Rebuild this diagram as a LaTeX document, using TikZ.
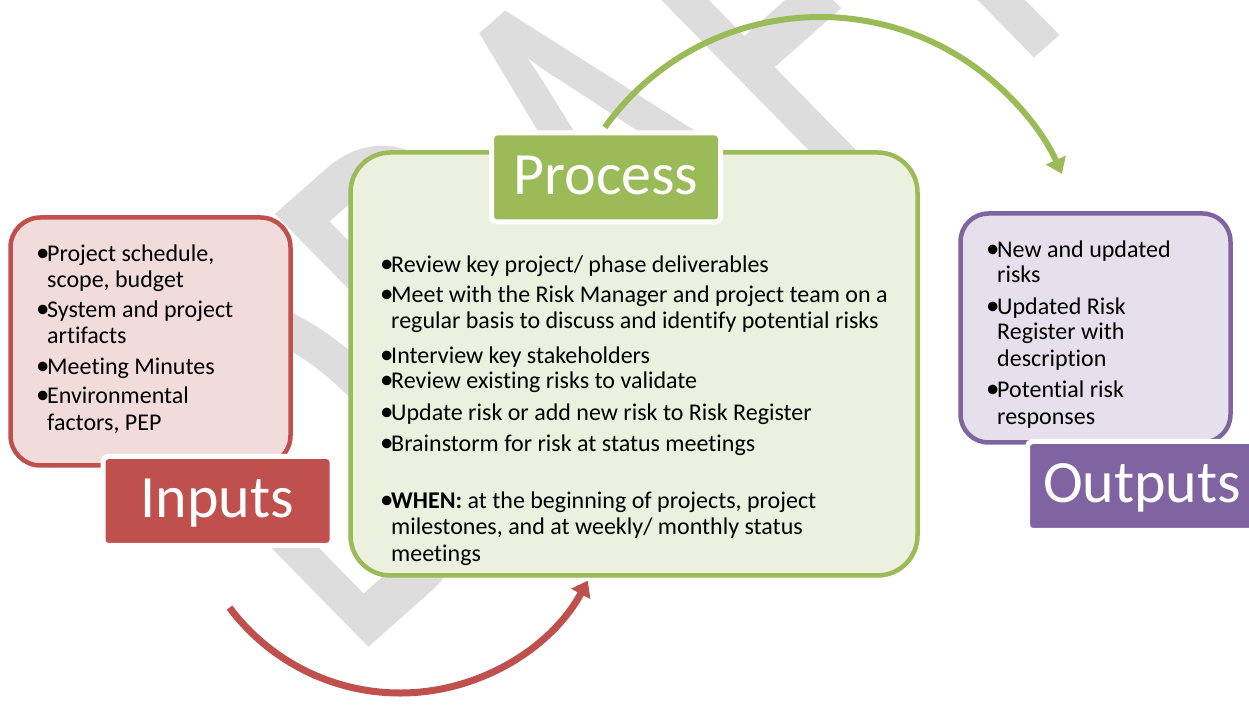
\documentclass[tikz,border=0pt]{standalone}
\usepackage{graphicx}
\usepackage{fontspec}
\setmainfont{Carlito}[Ligatures=NoCommon]
\usetikzlibrary{arrows.meta}
\definecolor{ired}{HTML}{C0504D}
\definecolor{ipink}{HTML}{F2DCDB}
\definecolor{pgreen}{HTML}{9BBB59}
\definecolor{pfill}{HTML}{EBF1DE}
\definecolor{opurple}{HTML}{8064A2}
\definecolor{ofill}{HTML}{E5E0EC}
\definecolor{wmgray}{HTML}{DDDDDD}
\newcommand{\bul}{\makebox[10pt][l]{\hspace*{-1pt}\scalebox{1.12}{\textbullet}}}
\begin{document}
\begin{tikzpicture}[x=1pt,y=1pt,
  bodytext/.style={anchor=base west, inner sep=0pt, font=\fontsize{24}{26}\selectfont},
  boxshape/.style={rectangle, line width=4.5pt, inner sep=0pt},
  labelbox/.style={rectangle, draw=white, line width=5pt, rounded corners=5pt, inner sep=0pt,
    text=white, font=\fontsize{60}{60}\selectfont, text height=39pt, text depth=5pt,
    minimum width=229pt, minimum height=89pt},
  arrowline/.style={line width=#1, -{Triangle[length=15pt,width=21pt]}}
]
\useasboundingbox (0,0) rectangle (1249,711);
\fill[white] (0,0) rectangle (1249,711);
% watermark
\begin{scope}[cm={2.86,2.53,-4.22,4.30,(349pt,46pt)}]
\node[transform shape, anchor=base west, inner sep=0pt, text=wmgray,
  font=\fontsize{100}{100}\selectfont] (wm) at (0,0) {DRAFT};
\end{scope}
% boxes
\node[boxshape, draw=ired, fill=ipink, rounded corners=30pt,
  minimum width=280pt, minimum height=248pt] (ibox) at (150.5,369.5) {};
\node[boxshape, draw=pgreen, fill=pfill, rounded corners=40pt,
  minimum width=567pt, minimum height=423pt] (pbox) at (634,347) {};
\node[boxshape, draw=opurple, fill=ofill, rounded corners=28pt,
  minimum width=270pt, minimum height=229pt] (obox) at (1095.5,383) {};
% labels
\node[labelbox, fill=ired] (ilab) at (217.5,210) {Inputs};
\node[labelbox, fill=pgreen] (plab) at (606,533.5) {Process};
\node[labelbox, fill=opurple] (olab) at (1142,225) {Outputs};
% arrows
\coordinate (rs) at (229.5,103.4);
\draw[ired, arrowline=7pt] (rs) arc[start angle=216.8, end angle=331.8, radius=213];
\coordinate (gs) at (604.8,583.6);
\draw[pgreen, arrowline=6pt] (gs) arc[start angle=144.3, end angle=24.1, radius=265];
% inputs text
\node[bodytext] (i1) at (37,449) {\bul Project schedule,};
\node[bodytext] (i1b) at (47,423) {scope, budget};
\node[bodytext] (i2) at (37,393) {\bul System and project};
\node[bodytext] (i2b) at (47,367) {artifacts};
\node[bodytext] (i3) at (37,336) {\bul Meeting Minutes};
\node[bodytext] (i4) at (37,307) {\bul Environmental};
\node[bodytext] (i4b) at (47,280) {factors, PEP};
% process text
\node[bodytext] (p1) at (381,438) {\bul Review key project/ phase deliverables};
\node[bodytext] (p2) at (381,408) {\bul Meet with the Risk Manager and project team on a};
\node[bodytext] (p2b) at (391,382) {regular basis to discuss and identify potential risks};
\node[bodytext] (p3) at (381,347) {\bul Interview key stakeholders};
\node[bodytext] (p4) at (381,322) {\bul Review existing risks to validate};
\node[bodytext] (p5) at (381,290) {\bul Update risk or add new risk to Risk Register};
\node[bodytext] (p6) at (381,259) {\bul Brainstorm for risk at status meetings};
\node[bodytext] (p7) at (381,202) {\bul\textbf{WHEN:} at the beginning of projects, project};
\node[bodytext] (p7b) at (391,176) {milestones, and at weekly/ monthly status};
\node[bodytext] (p7c) at (391,149) {meetings};
% outputs text
\node[bodytext] (o1) at (987,453) {\bul New and updated};
\node[bodytext] (o1b) at (997,428) {risks};
\node[bodytext] (o2) at (987,396) {\bul Updated Risk};
\node[bodytext] (o2b) at (997,371) {Register with};
\node[bodytext] (o2c) at (997,344) {description};
\node[bodytext] (o3) at (987,313) {\bul Potential risk};
\node[bodytext] (o3b) at (997,286) {responses};
\end{tikzpicture}
\end{document}
